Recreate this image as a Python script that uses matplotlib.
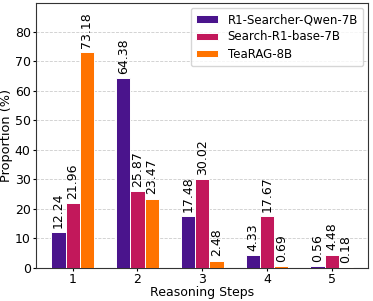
import numpy as np
import matplotlib
matplotlib.use('Agg')
from matplotlib import pyplot as plt

steps = [1, 2, 3, 4, 5]
r1_searcher = [12.24, 64.38, 17.48, 4.33, 0.56]
search_r1 = [21.96, 25.87, 30.02, 17.67, 4.48]
tearag = [73.18, 23.47, 2.48, 0.69, 0.18]

labels = ['R1-Searcher-Qwen-7B', 'Search-R1-base-7B', 'TeaRAG-8B']
colors = ['#4a148c', '#c2185b', '#ff7300']
series = [r1_searcher, search_r1, tearag]

fig, ax = plt.subplots(figsize=(3.73, 3.01), dpi=100)
x = np.array(steps)
w = 0.22
for i, (vals, lab, c) in enumerate(zip(series, labels, colors)):
    bars = ax.bar(x + (i - 1) * w, vals, w, label=lab, color=c,
                  edgecolor='white', linewidth=0.7, zorder=3)
    for b, v in zip(bars, vals):
        ax.annotate(f'{v:.2f}', (b.get_x() + b.get_width() / 2, v),
                    xytext=(0, 3), textcoords='offset points',
                    rotation=90, ha='center', va='bottom', fontsize=9)

ax.set_ylim(0, 89.6)
ax.set_xticks(steps)
ax.set_xlabel('Reasoning Steps', fontsize=9, labelpad=0)
ax.set_ylabel('Proportion (%)', fontsize=9.3, labelpad=1)
ax.tick_params(labelsize=9, pad=1.5, length=2.5)
ax.grid(axis='y', linestyle='--', color='#cccccc', linewidth=0.6, zorder=0)
for s in ax.spines.values():
    s.set_color('#333333')
ax.legend(loc='upper right', fontsize=8.5, handlelength=1.9, handleheight=0.6,
          labelspacing=0.35, borderpad=0.45, borderaxespad=0.4)
fig.subplots_adjust(left=0.097, right=0.987, top=0.989, bottom=0.11)
fig.savefig('out.png', dpi=100)
